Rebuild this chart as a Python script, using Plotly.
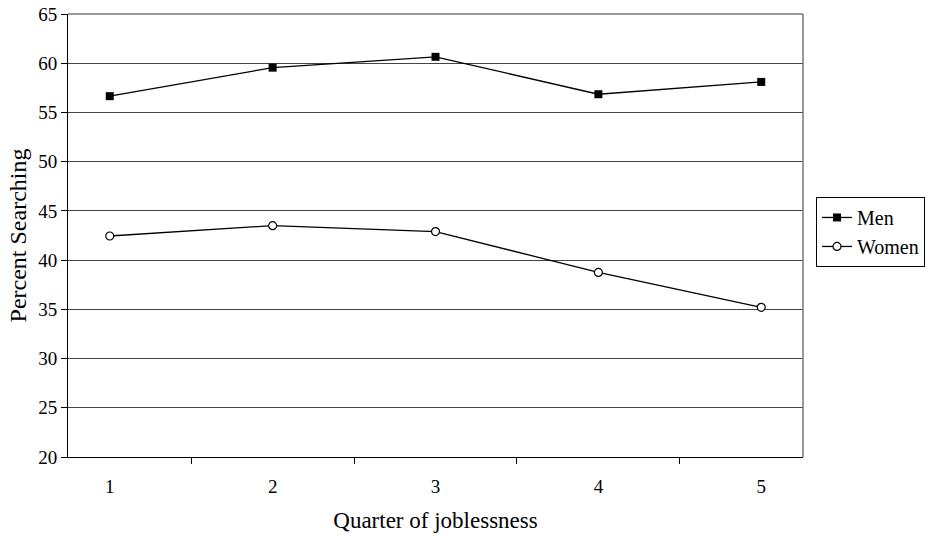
import plotly.graph_objects as go

quarters = ["1", "2", "3", "4", "5"]
men = [56.65, 59.55, 60.65, 56.85, 58.1]
women = [42.45, 43.5, 42.9, 38.75, 35.2]
y_ticks = [20, 25, 30, 35, 40, 45, 50, 55, 60, 65]

FONT = "Liberation Serif"

fig = go.Figure()
fig.add_trace(go.Scatter(
    x=quarters, y=men, name="Men", mode="lines+markers",
    line=dict(color="black", width=1.3),
    marker=dict(symbol="square", size=8, color="black"),
))
fig.add_trace(go.Scatter(
    x=quarters, y=women, name="Women", mode="lines+markers",
    line=dict(color="black", width=1.3),
    marker=dict(symbol="circle", size=8, color="white", line=dict(color="black", width=1.2)),
))

# plot-area frame (top and right edges, grey)
fig.add_shape(type="line", xref="paper", yref="paper", x0=0, x1=1, y0=1, y1=1,
              line=dict(color="#777777", width=1.5))
fig.add_shape(type="line", xref="paper", yref="paper", x0=1, x1=1, y0=0, y1=1,
              line=dict(color="#777777", width=1.5))

fig.update_layout(
    width=932, height=536,
    margin=dict(l=68, r=129, t=14, b=79, autoexpand=False),
    paper_bgcolor="white", plot_bgcolor="white",
    font=dict(family=FONT, size=19, color="black"),
    legend=dict(x=1.0177, y=0.587, xanchor="left", yanchor="top",
                bordercolor="black", borderwidth=1, bgcolor="white",
                font=dict(family=FONT, size=20), tracegroupgap=4),
    xaxis=dict(type="category", categoryorder="array", categoryarray=quarters,
               tickson="boundaries", ticks="outside", ticklen=6, tickcolor="black",
               ticklabelstandoff=12,
               showline=True, linecolor="black", linewidth=1, automargin=False,
               showgrid=False, zeroline=False,
               title=dict(text="Quarter of joblessness", font=dict(family=FONT, size=23), standoff=16),
               tickfont=dict(family=FONT, size=19)),
    yaxis=dict(range=[20, 65], tickvals=y_ticks, ticks="outside", ticklen=6, tickcolor="black",
               ticklabeloverflow="allow",
               showline=True, linecolor="black", linewidth=1, automargin=False,
               showgrid=True, gridcolor="#444444", gridwidth=1, zeroline=False,
               title=dict(text="Percent Searching", font=dict(family=FONT, size=24), standoff=4),
               tickfont=dict(family=FONT, size=19)),
)

fig.write_html("out.html", config={"displayModeBar": False},
               post_script="document.body.style.margin='0';")
